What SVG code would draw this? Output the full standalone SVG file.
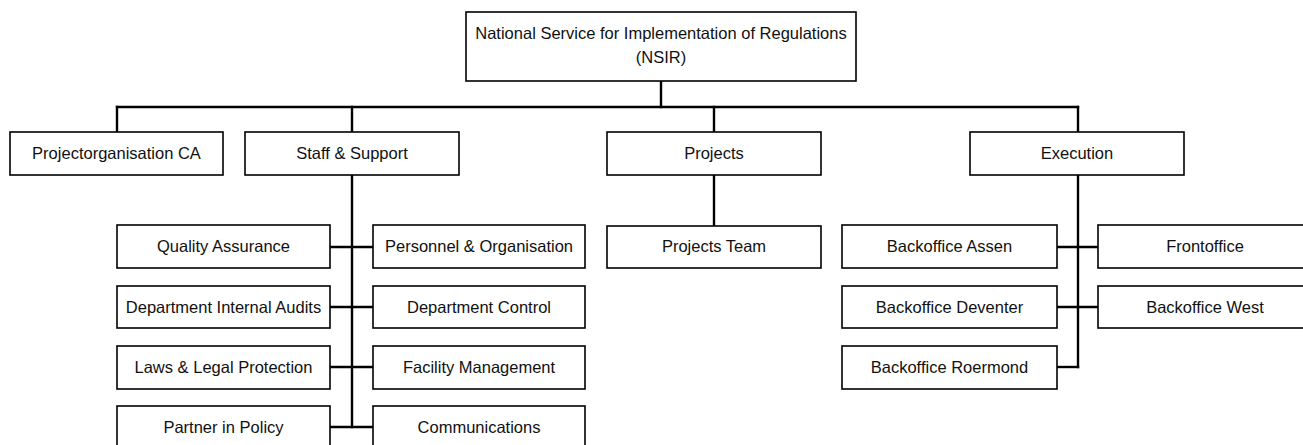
<svg xmlns="http://www.w3.org/2000/svg" width="1303" height="445" viewBox="0 0 1303 445">
  <style>
    .box { fill: #ffffff; stroke: #000000; stroke-width: 1.6; }
    .lbl { font-family: "Liberation Sans", Arial, sans-serif; font-size: 16.5px; fill: #111111; text-anchor: middle; }
    .conn { fill: none; stroke: #000000; stroke-width: 2.4; stroke-linecap: square; }
  </style>
  <rect x="0" y="0" width="1303" height="445" fill="#ffffff"/>

  <g id="connectors">
    <path class="conn" d="M661 81 V107"/>
    <path class="conn" d="M117 107 H1078"/>
    <path class="conn" d="M117 107 V132"/>
    <path class="conn" d="M352 107 V132"/>
    <path class="conn" d="M714 107 V132"/>
    <path class="conn" d="M1078 107 V132"/>
    <path class="conn" d="M352 175 V427"/>
    <path class="conn" d="M330 247 H373"/>
    <path class="conn" d="M330 307 H373"/>
    <path class="conn" d="M330 367 H373"/>
    <path class="conn" d="M330 427 H373"/>
    <path class="conn" d="M714 175 V226"/>
    <path class="conn" d="M1078 175 V367"/>
    <path class="conn" d="M1057 247 H1098"/>
    <path class="conn" d="M1057 307 H1098"/>
    <path class="conn" d="M1057 367 H1078"/>
  </g>

  <g id="nsir">
    <rect class="box" x="466" y="12" width="390" height="69"/>
    <text class="lbl" x="661" y="39">National Service for Implementation of Regulations</text>
    <text class="lbl" x="661" y="63">(NSIR)</text>
  </g>

  <g id="projectorganisation-ca">
    <rect class="box" x="10" y="132" width="213" height="43"/>
    <text class="lbl" x="116.5" y="159">Projectorganisation CA</text>
  </g>
  <g id="staff-support">
    <rect class="box" x="245" y="132" width="214" height="43"/>
    <text class="lbl" x="352" y="159">Staff &amp; Support</text>
  </g>
  <g id="projects">
    <rect class="box" x="607" y="132" width="214" height="43"/>
    <text class="lbl" x="714" y="159">Projects</text>
  </g>
  <g id="execution">
    <rect class="box" x="970" y="132" width="214" height="43"/>
    <text class="lbl" x="1077" y="159">Execution</text>
  </g>

  <g id="quality-assurance">
    <rect class="box" x="117" y="225" width="213" height="43"/>
    <text class="lbl" x="223.5" y="252">Quality Assurance</text>
  </g>
  <g id="department-internal-audits">
    <rect class="box" x="117" y="286" width="213" height="42"/>
    <text class="lbl" x="223.5" y="313">Department Internal Audits</text>
  </g>
  <g id="laws-legal-protection">
    <rect class="box" x="117" y="346" width="213" height="43"/>
    <text class="lbl" x="223.5" y="373">Laws &amp; Legal Protection</text>
  </g>
  <g id="partner-in-policy">
    <rect class="box" x="117" y="406" width="213" height="43"/>
    <text class="lbl" x="223.5" y="433">Partner in Policy</text>
  </g>

  <g id="personnel-organisation">
    <rect class="box" x="373" y="225" width="212" height="43"/>
    <text class="lbl" x="479" y="252">Personnel &amp; Organisation</text>
  </g>
  <g id="department-control">
    <rect class="box" x="373" y="286" width="212" height="42"/>
    <text class="lbl" x="479" y="313">Department Control</text>
  </g>
  <g id="facility-management">
    <rect class="box" x="373" y="346" width="212" height="43"/>
    <text class="lbl" x="479" y="373">Facility Management</text>
  </g>
  <g id="communications">
    <rect class="box" x="373" y="406" width="212" height="43"/>
    <text class="lbl" x="479" y="433">Communications</text>
  </g>

  <g id="projects-team">
    <rect class="box" x="607" y="226" width="214" height="42"/>
    <text class="lbl" x="714" y="252">Projects Team</text>
  </g>

  <g id="backoffice-assen">
    <rect class="box" x="842" y="225" width="215" height="43"/>
    <text class="lbl" x="949.5" y="252">Backoffice Assen</text>
  </g>
  <g id="backoffice-deventer">
    <rect class="box" x="842" y="286" width="215" height="42"/>
    <text class="lbl" x="949.5" y="313">Backoffice Deventer</text>
  </g>
  <g id="backoffice-roermond">
    <rect class="box" x="842" y="346" width="215" height="43"/>
    <text class="lbl" x="949.5" y="373">Backoffice Roermond</text>
  </g>
  <g id="frontoffice">
    <rect class="box" x="1098" y="225" width="214" height="43"/>
    <text class="lbl" x="1205" y="252">Frontoffice</text>
  </g>
  <g id="backoffice-west">
    <rect class="box" x="1098" y="286" width="214" height="42"/>
    <text class="lbl" x="1205" y="313">Backoffice West</text>
  </g>
</svg>
